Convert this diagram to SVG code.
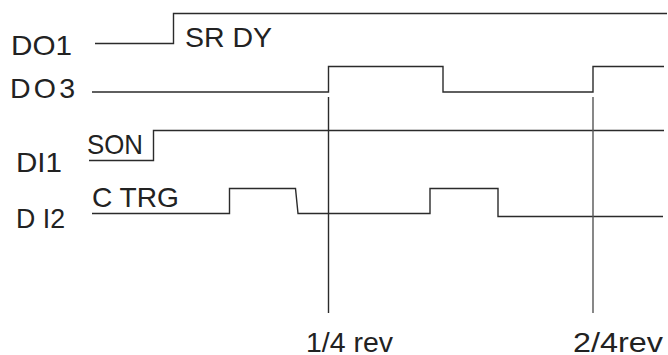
<svg xmlns="http://www.w3.org/2000/svg" width="668" height="355" viewBox="0 0 668 355">
<style>
.w{fill:none;stroke:#2b2b2b;stroke-width:1.4;stroke-linejoin:miter}
.g{fill:none;stroke:#555;stroke-width:1.4}
text{font-family:"Liberation Sans",Arial,sans-serif;font-size:28.5px;fill:#222}
</style>
<rect width="668" height="355" fill="#fff"/>
<g id="DO1">
<text x="11" y="55" textLength="61" lengthAdjust="spacingAndGlyphs">DO1</text>
<polyline class="w" points="95,43.5 173.5,43.5 173.5,13.5 667,13.5"/>
<text x="185" y="47" textLength="87" lengthAdjust="spacingAndGlyphs">SR DY</text>
</g>
<g id="DO3">
<text x="10" y="98" textLength="65" lengthAdjust="spacing">DO3</text>
<polyline class="w" points="92,92 328.5,92 328.5,66.5 443,66.5 443,92 593,92 593,66.5 664,66.5"/>
</g>
<g id="DI1">
<text x="16" y="171.5" textLength="46" lengthAdjust="spacingAndGlyphs">DI1</text>
<text x="87" y="154" font-size="27" textLength="56" lengthAdjust="spacingAndGlyphs">SON</text>
<polyline class="w" points="89,160.5 153.5,160.5 153.5,130.5 664,130.5"/>
</g>
<g id="DI2">
<text x="16" y="228" textLength="49" lengthAdjust="spacingAndGlyphs">D I2</text>
<text x="92" y="207" textLength="87" lengthAdjust="spacingAndGlyphs">C TRG</text>
<polyline class="w" points="92,213.5 229.5,213.5 229.5,188.5 295.5,188.5 298,213.5 430,213.5 430,188.5 498,188.5 498,216.5 663,216.5"/>
</g>
<g id="connectors">
<line class="w" x1="328.5" y1="97" x2="328.5" y2="313"/>
<line class="g" x1="593" y1="97" x2="593" y2="313"/>
</g>
<g id="ticks">
<text x="306" y="351.5" textLength="87" lengthAdjust="spacingAndGlyphs">1/4 rev</text>
<text x="573" y="351.5" textLength="90" lengthAdjust="spacingAndGlyphs">2/4rev</text>
</g>
</svg>
